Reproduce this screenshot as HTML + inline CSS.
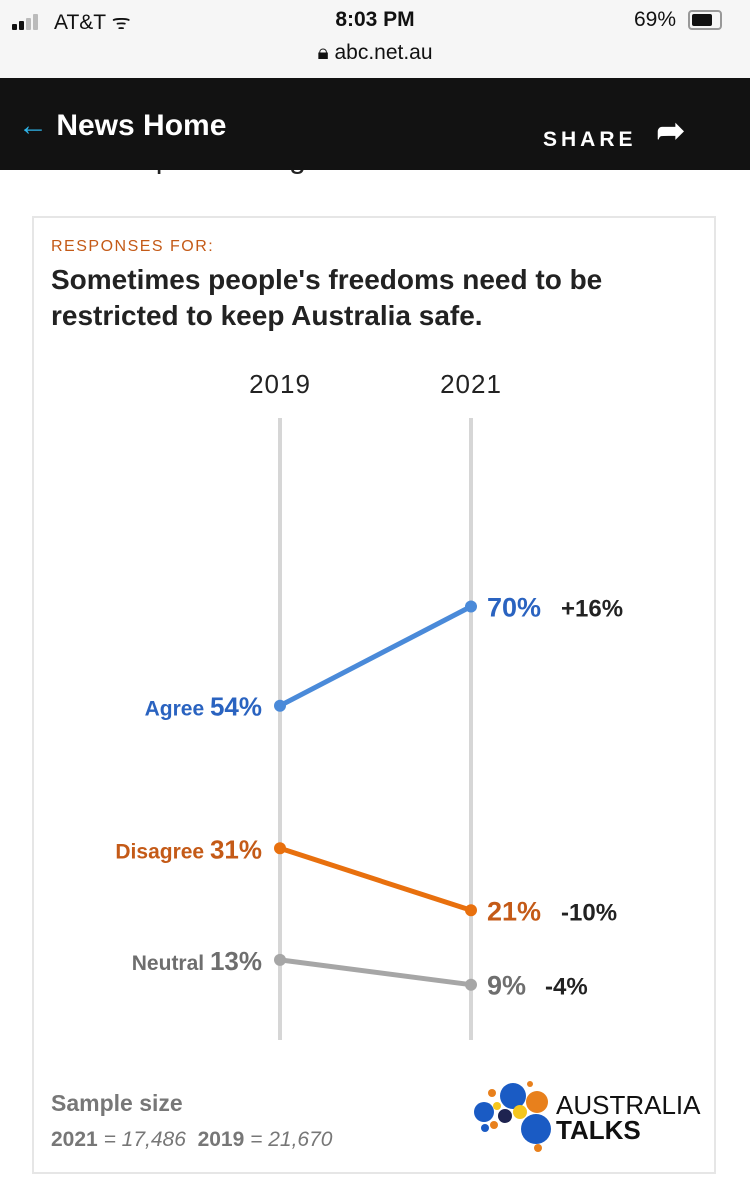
<!DOCTYPE html>
<html><head><meta charset="utf-8">
<style>
body{margin:0;width:750px;height:1185px;background:#fff;font-family:"Liberation Sans",sans-serif;position:relative;overflow:hidden}
.abs{position:absolute}
</style></head><body>
<div class="abs" style="left:34px;top:142px;font-size:30px;color:#222;white-space:nowrap">when 64 per cent agreed.</div>
<div class="abs" style="left:0;top:0;width:750px;height:78px;background:#f6f6f6">
 <div class="abs" style="left:12px;top:14px;width:30px;height:16px">
  <div class="abs" style="left:0;top:10px;width:5px;height:6px;background:#111;border-radius:1px"></div>
  <div class="abs" style="left:7px;top:7px;width:5px;height:9px;background:#111;border-radius:1px"></div>
  <div class="abs" style="left:14px;top:4px;width:5px;height:12px;background:#bbb;border-radius:1px"></div>
  <div class="abs" style="left:21px;top:0;width:5px;height:16px;background:#bbb;border-radius:1px"></div>
 </div>
 <div class="abs" style="left:54px;top:8px;font-size:21px;color:#111">AT&amp;T ᯤ</div>
 <div class="abs" style="left:0;width:750px;top:8px;text-align:center;font-size:21px;font-weight:bold;color:#111">8:03 PM</div>
 <div class="abs" style="left:0;width:750px;top:41px;text-align:center;font-size:21px;color:#111">🔒︎ abc.net.au</div>
 <div class="abs" style="left:634px;top:8px;font-size:21px;color:#111">69%</div>
 <div class="abs" style="left:688px;top:10px;width:30px;height:16px;border:2px solid #999;border-radius:4px"><div style="margin:2px;width:20px;height:12px;background:#111;border-radius:2px"></div></div>
</div>
<div class="abs" style="left:0;top:78px;width:750px;height:92px;background:#121212">
 <div class="abs" style="left:18px;top:31px;font-size:30px;color:#fff;font-weight:bold"><span style="color:#2fb4e8">←</span> News Home</div>
 <div class="abs" style="left:543px;top:37px;font-size:21px;color:#fff;font-weight:bold;letter-spacing:4px">SHARE <span style="font-size:34px;position:relative;top:-4px;left:10px">➦</span></div>
</div>
<div class="abs" style="left:32px;top:216px;width:684px;height:958px;border:2px solid #e6e6e6;box-sizing:border-box;background:#fff"></div>
<div class="abs" style="left:51px;top:238px;font-size:16px;letter-spacing:1.5px;color:#c45a17">RESPONSES FOR:</div>
<div class="abs" style="left:51px;top:262px;font-size:28px;line-height:36px;font-weight:bold;color:#222;width:650px">Sometimes people's freedoms need to be restricted to keep Australia safe.</div>
<svg class="abs" style="left:0;top:0" width="750" height="1185" id="chart"></svg>
<div class="abs" style="left:51px;top:1090px;font-size:23px;font-weight:bold;color:#777">Sample size</div>
<div class="abs" style="left:51px;top:1128px;font-size:21px;color:#777"><b>2021</b> <i>= 17,486</i>&nbsp; <b>2019</b> <i>= 21,670</i></div>
<svg class="abs" style="left:470px;top:1078px" width="240" height="80">
 <circle cx="43" cy="18" r="13" fill="#1a5bc4"/><circle cx="14" cy="34" r="10" fill="#1a5bc4"/><circle cx="67" cy="24" r="11" fill="#e8801c"/>
 <circle cx="66" cy="51" r="15" fill="#1a5bc4"/><circle cx="35" cy="38" r="7" fill="#1e2350"/><circle cx="50" cy="34" r="7" fill="#f5c61e"/>
 <circle cx="27" cy="28" r="4" fill="#f5c61e"/><circle cx="24" cy="47" r="4" fill="#e8801c"/><circle cx="15" cy="50" r="4" fill="#1a5bc4"/>
 <circle cx="68" cy="70" r="4" fill="#e8801c"/><circle cx="60" cy="6" r="3" fill="#e8801c"/><circle cx="22" cy="15" r="4" fill="#e8801c"/>
 <text x="86" y="36" font-size="26" fill="#111" font-family="Liberation Sans">AUSTRALIA</text>
 <text x="86" y="61" font-size="26" font-weight="bold" fill="#111" font-family="Liberation Sans">TALKS</text>
</svg>
<script>
const years=["2019","2021"];
const categories=["Agree","Disagree","Neutral"];
const v2019=[54,31,13];
const v2021=[70,21,9];
const changes=["+16%","-10%","-4%"];
const colors=["#4a8ad9","#e8700e","#a6a6a6"];
const textColors=["#2a63c0","#c45a17","#6e6e6e"];
const svg=document.getElementById('chart');
const NS="http://www.w3.org/2000/svg";
const xScale=i=>280+i*191;
const yScale=v=>1040.5-6.2*v;
function mk(t,a){const e=document.createElementNS(NS,t);for(const k in a)e.setAttribute(k,a[k]);svg.appendChild(e);return e;}
years.forEach((y,i)=>{
 const l=mk('line',{x1:xScale(i),x2:xScale(i),y1:418,y2:1040,stroke:'#d6d6d6','stroke-width':4});
 
 
 const t=mk('text',{x:xScale(i),y:393,'text-anchor':'middle','font-size':26,fill:'#222','letter-spacing':1});
 t.textContent=y;
 
 
});
categories.forEach((c,i)=>{
 const y1=yScale(v2019[i]),y2=yScale(v2021[i]);
 const ln=mk('line',{x1:xScale(0),y1:y1,x2:xScale(1),y2:y2,stroke:colors[i],'stroke-width':5});
 
 
 [[0,y1],[1,y2]].forEach(([k,yy])=>{
  const d=mk('circle',{cx:xScale(k),cy:yy,r:6,fill:colors[i]});
  
  
 });
 const lt=mk('text',{x:xScale(0)-18,y:y1+10,'text-anchor':'end',fill:textColors[i],'font-weight':'bold'});
 lt.innerHTML='<tspan font-size="21">'+c+' </tspan><tspan font-size="26" font-weight="bold">'+v2019[i]+'%</tspan>';
 
 
 const rt=mk('text',{x:xScale(1)+16,y:y2+10,fill:textColors[i],'font-size':27,'font-weight':'bold'});
 rt.textContent=v2021[i]+'%';
 
 
 const ct=mk('text',{x:xScale(1)+90-(v2021[i]<10?16:0),y:y2+10,fill:'#222','font-size':24,'font-weight':'bold'});
 ct.textContent=changes[i];
 
 
});
</script>
</body></html>
